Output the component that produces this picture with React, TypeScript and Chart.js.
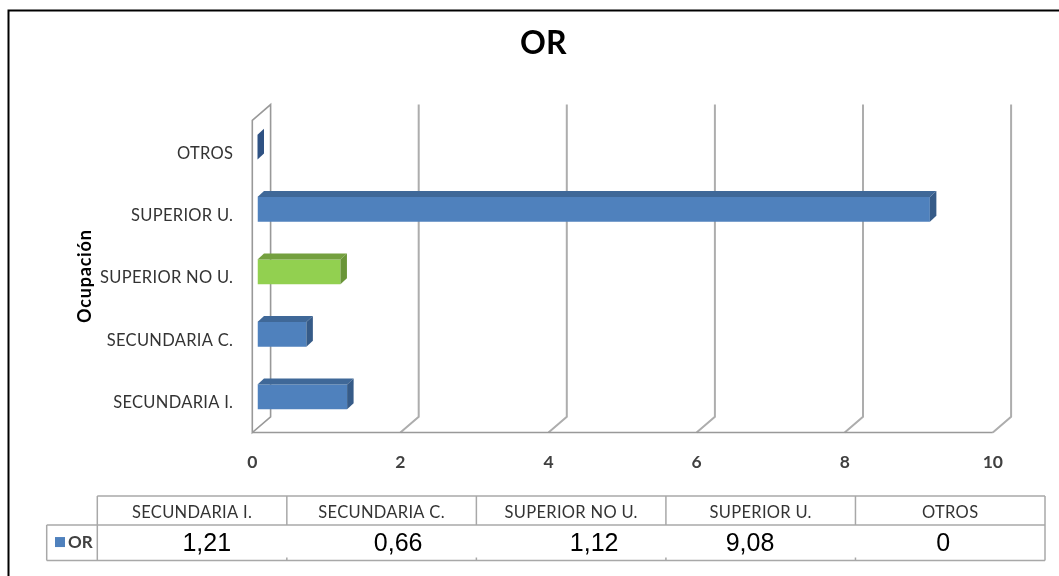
import { useEffect, useRef } from "react";
import { Chart, registerables } from "chart.js";

Chart.register(...registerables);

// Odds ratio (OR) by education level
const categories = ["SECUNDARIA I.", "SECUNDARIA C.", "SUPERIOR NO U.", "SUPERIOR U.", "OTROS"];
const orValues = [1.21, 0.66, 1.12, 9.08, 0];
const xTicks = [0, 2, 4, 6, 8, 10];
const seriesName = "OR";
const chartTitle = "OR";
const axisTitle = "Ocupación";

// bar face colours: front, top and right side of each 3D bar
const frontColors = ["#4F81BD", "#4F81BD", "#92D050", "#4F81BD", "#4F81BD"];
const topColors = ["#3F6898", "#3F6898", "#74A03F", "#3F6898", "#3F6898"];
const sideColors = ["#365B88", "#365B88", "#6A9538", "#365B88", "#2F5283"];

const W = 1059;
const H = 576;

// plane where the bar fronts sit; walls are offset from it in depth
const PLOT = { left: 257.5, right: 998, top: 115.8, bottom: 428 };
const FRONT = { dx: -5.2, dy: 4.5 };
const BACK = { dx: 13.1, dy: -11.2 };
const BAR_DEPTH = { dx: 6.5, dy: -6 };

// data table under the plot
const TABLE = { legendLeft: 46.7, left: 97.3, right: 1045, top: 496, mid: 525, bottom: 560.5 };
const VALUE_SHIFT = [14.7, 16.5, 23, -10.7, -7];

const formatValue = (v: number) => String(v).replace(".", ",");

function drawText(
  ctx: CanvasRenderingContext2D,
  s: string,
  x: number,
  cy: number,
  font: string,
  color: string,
  align: CanvasTextAlign,
  spacing = 0
) {
  ctx.font = font;
  ctx.fillStyle = color;
  ctx.textAlign = align;
  ctx.textBaseline = "alphabetic";
  (ctx as any).letterSpacing = spacing + "px";
  const cap = ctx.measureText("H").actualBoundingBoxAscent;
  ctx.fillText(s, x, cy + cap / 2);
  (ctx as any).letterSpacing = "0px";
}

function line(ctx: CanvasRenderingContext2D, x1: number, y1: number, x2: number, y2: number) {
  ctx.beginPath();
  ctx.moveTo(x1, y1);
  ctx.lineTo(x2, y2);
  ctx.stroke();
}

function poly(ctx: CanvasRenderingContext2D, pts: number[][]) {
  ctx.beginPath();
  ctx.moveTo(pts[0][0], pts[0][1]);
  for (let i = 1; i < pts.length; i++) ctx.lineTo(pts[i][0], pts[i][1]);
  ctx.closePath();
  ctx.fill();
}

const depthPlugin = {
  id: "depth3d",
  beforeDatasetsDraw(chart: any) {
    const { ctx, chartArea: a } = chart;
    const xs = chart.scales.x;
    const x0 = xs.getPixelForValue(xTicks[0]);
    const xN = xs.getPixelForValue(xTicks[xTicks.length - 1]);
    ctx.save();
    // back wall gridlines, bending forward across the floor
    ctx.strokeStyle = "#ADADAD";
    ctx.lineWidth = 2;
    xTicks.slice(1).forEach((v) => {
      const px = xs.getPixelForValue(v);
      ctx.beginPath();
      ctx.moveTo(px + BACK.dx, a.top + BACK.dy);
      ctx.lineTo(px + BACK.dx, a.bottom + BACK.dy);
      ctx.lineTo(px + FRONT.dx, a.bottom + FRONT.dy);
      ctx.stroke();
    });
    // floor front edge and left side wall
    ctx.strokeStyle = "#999999";
    ctx.lineWidth = 1.6;
    line(ctx, x0 + FRONT.dx, a.bottom + FRONT.dy, xN + FRONT.dx, a.bottom + FRONT.dy);
    ctx.beginPath();
    ctx.moveTo(x0 + FRONT.dx, a.bottom + FRONT.dy);
    ctx.lineTo(x0 + FRONT.dx, a.top + FRONT.dy);
    ctx.lineTo(x0 + BACK.dx, a.top + BACK.dy);
    ctx.lineTo(x0 + BACK.dx, a.bottom + BACK.dy);
    ctx.closePath();
    ctx.stroke();
    ctx.restore();
  },
  afterDatasetsDraw(chart: any) {
    const { ctx } = chart;
    const meta = chart.getDatasetMeta(0);
    ctx.save();
    meta.data.forEach((bar: any, i: number) => {
      const { x, y, base, height } = bar.getProps(["x", "y", "base", "height"], true);
      const top = y - height / 2;
      const bottom = y + height / 2;
      ctx.fillStyle = topColors[i];
      poly(ctx, [
        [base, top],
        [x, top],
        [x + BAR_DEPTH.dx, top + BAR_DEPTH.dy],
        [base + BAR_DEPTH.dx, top + BAR_DEPTH.dy],
      ]);
      ctx.fillStyle = sideColors[i];
      poly(ctx, [
        [x, top],
        [x + BAR_DEPTH.dx, top + BAR_DEPTH.dy],
        [x + BAR_DEPTH.dx, bottom + BAR_DEPTH.dy],
        [x, bottom],
      ]);
    });
    ctx.restore();
  },
  afterDraw(chart: any) {
    const { ctx } = chart;
    const xs = chart.scales.x;
    const ys = chart.scales.y;
    ctx.save();

    // outer frame
    ctx.strokeStyle = "#000";
    ctx.lineWidth = 2;
    ctx.strokeRect(8.5, 10.5, W + 40, H + 40);

    // title
    drawText(ctx, chartTitle, 543.3, 42.2, "bold 32px Lato", "#000", "center");

    // vertical axis title
    ctx.save();
    ctx.translate(84, 276.2);
    ctx.rotate(-Math.PI / 2);
    drawText(ctx, axisTitle, 0, 0, "bold 18px Lato", "#000", "center", 0.8);
    ctx.restore();

    // category labels
    const labelRight = xs.getPixelForValue(0) + FRONT.dx - 19;
    categories.forEach((c, i) => {
      drawText(ctx, c, labelRight, ys.getPixelForValue(i) + 5, "16.5px Lato", "#333333", "right", 0.3);
    });

    // value axis labels along the front edge of the floor
    xTicks.forEach((v) => {
      drawText(ctx, String(v), xs.getPixelForValue(v) + FRONT.dx, 462, "bold 17.5px Lato", "#404040", "center");
    });

    // data table
    const colW = (TABLE.right - TABLE.left) / categories.length;
    ctx.strokeStyle = "#A8A8A8";
    ctx.lineWidth = 1.5;
    line(ctx, TABLE.left, TABLE.top, TABLE.right, TABLE.top);
    line(ctx, TABLE.legendLeft, TABLE.mid, TABLE.right, TABLE.mid);
    line(ctx, TABLE.legendLeft, TABLE.bottom, TABLE.right, TABLE.bottom);
    line(ctx, TABLE.legendLeft, TABLE.mid, TABLE.legendLeft, TABLE.bottom);
    line(ctx, TABLE.left, TABLE.top, TABLE.left, TABLE.bottom);
    line(ctx, TABLE.right, TABLE.top, TABLE.right, TABLE.bottom);
    for (let k = 1; k < categories.length; k++) {
      const cx = TABLE.left + k * colW;
      line(ctx, cx, TABLE.top, cx, TABLE.mid);
      line(ctx, cx, TABLE.bottom - 3, cx, TABLE.bottom);
    }
    const headCy = (TABLE.top + TABLE.mid) / 2 + 1;
    const valCy = (TABLE.mid + TABLE.bottom) / 2 - 0.7;
    categories.forEach((c, i) => {
      const cx = TABLE.left + (i + 0.5) * colW;
      drawText(ctx, c, cx, headCy, "16.5px Lato", "#333333", "center", 0.3);
      drawText(ctx, formatValue(orValues[i]), cx + VALUE_SHIFT[i], valCy, "25px 'Liberation Sans'", "#000", "center");
    });
    // legend key
    ctx.fillStyle = frontColors[0];
    ctx.fillRect(55, valCy - 5, 10, 10);
    drawText(ctx, seriesName, 68, valCy, "bold 17px Lato", "#404040", "left");

    ctx.restore();
  },
};

export default function App() {
  const ref = useRef<HTMLCanvasElement | null>(null);

  useEffect(() => {
    if (!ref.current) return;
    const chart = new Chart(ref.current, {
      type: "bar",
      data: {
        labels: categories,
        datasets: [
          {
            label: seriesName,
            data: orValues,
            backgroundColor: frontColors,
            borderWidth: 0,
            categoryPercentage: 1,
            barPercentage: 0.396,
          },
        ],
      },
      options: {
        indexAxis: "y",
        responsive: false,
        animation: false,
        devicePixelRatio: 1,
        events: [],
        layout: {
          padding: { left: PLOT.left, right: W - PLOT.right, top: PLOT.top, bottom: H - PLOT.bottom },
        },
        scales: {
          x: { type: "linear", min: 0, max: 10, display: false },
          y: { type: "category", display: false, reverse: true },
        },
        plugins: {
          legend: { display: false },
          tooltip: { enabled: false },
          title: { display: false },
        },
      },
      plugins: [depthPlugin],
    } as any);
    return () => chart.destroy();
  }, []);

  return (
    <div style={{ position: "fixed", left: 0, top: 0, width: W, height: H, background: "#fff" }}>
      <canvas ref={ref} width={W} height={H} style={{ display: "block" }} />
    </div>
  );
}
